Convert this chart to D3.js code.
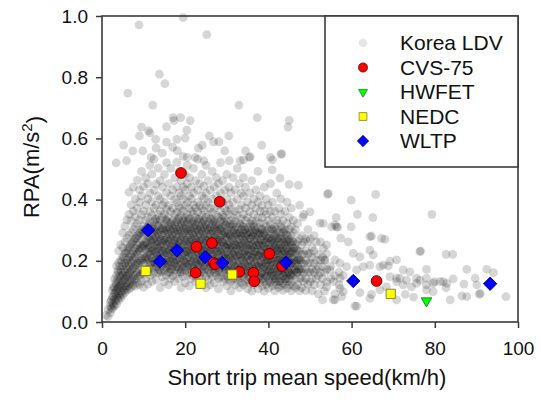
<!DOCTYPE html>
<html>
<head>
<meta charset="utf-8">
<script src="https://cdn.jsdelivr.net/npm/d3@7"></script>
<style>
  html, body { margin: 0; padding: 0; background: #fff; }
  svg { display: block; font-family: "Liberation Sans", Arial, sans-serif; }
</style>
</head>
<body>
<svg id="chart" width="541" height="404"></svg>
<script>
// Korea LDV short trips: main body as columns of [mean speed, RPA values]
const ldvColumns = [
  [1.0,[.022]],
  [1.5,[.018,.041]],
  [2.0,[.031,.052,.066]],
  [2.5,[.043,.061,.082,.104]],
  [3.0,[.052,.073,.094,.113,.141]],
  [3.5,[.058,.084,.103,.124,.152,.183]],
  [4.0,[.071,.092,.114,.133,.162,.194,.232]],
  [4.5,[.079,.101,.121,.146,.171,.203,.252]],
  [5.0,[.088,.112,.134,.153,.184,.213,.243,.291]],
  [5.5,[.097,.118,.142,.163,.192,.224,.262,.313]],
  [6.0,[.104,.128,.151,.174,.203,.232,.273,.334]],
  [6.5,[.108,.134,.158,.183,.212,.243,.284,.352,.424]],
  [7.0,[.113,.141,.167,.194,.221,.254,.292,.331,.383]],
  [7.5,[.121,.149,.176,.203,.232,.262,.303,.362,.441]],
  [8.0,[.117,.153,.187,.212,.241,.273,.312,.344,.402]],
  [8.5,[.128,.161,.193,.223,.252,.282,.321,.372,.463]],
  [9.0,[.122,.168,.201,.232,.258,.291,.334,.391,.432]],
  [9.5,[.133,.172,.208,.241,.268,.302,.351,.412,.492]],
  [10.0,[.113,.158,.192,.224,.249,.283,.313,.362,.442]],
  [10.5,[.141,.183,.213,.238,.262,.293,.332,.383,.471]],
  [11.0,[.124,.171,.203,.228,.253,.281,.308,.342,.402,.452]],
  [11.5,[.152,.188,.219,.243,.271,.298,.323,.361,.421,.512]],
  [12.0,[.132,.177,.208,.233,.258,.284,.312,.348,.393,.483]],
  [12.5,[.158,.193,.221,.247,.272,.293,.328,.372,.431,.532]],
  [13.0,[.138,.182,.203,.229,.252,.278,.303,.338,.382,.451]],
  [13.5,[.161,.191,.214,.241,.263,.289,.314,.352,.412,.503]],
  [14.0,[.112,.168,.198,.223,.248,.271,.298,.332,.363,.402,.462]],
  [14.5,[.148,.183,.208,.232,.257,.283,.307,.343,.382,.441,.552]],
  [15.0,[.131,.169,.193,.218,.243,.268,.292,.318,.353,.392,.482]],
  [15.5,[.153,.178,.203,.227,.253,.276,.302,.331,.368,.423,.521]],
  [16.0,[.121,.162,.188,.212,.238,.262,.287,.312,.342,.381,.452]],
  [16.5,[.142,.172,.198,.223,.247,.273,.298,.323,.361,.412,.502]],
  [17.0,[.151,.183,.207,.232,.256,.282,.306,.333,.372,.432,.571]],
  [17.5,[.132,.168,.192,.217,.242,.267,.293,.318,.352,.401,.471]],
  [18.0,[.158,.181,.204,.228,.251,.277,.302,.328,.358,.391,.442,.522]],
  [18.5,[.141,.172,.208,.236,.262,.287,.312,.341,.378,.421,.491]],
  [19.0,[.112,.163,.191,.217,.243,.268,.296,.322,.348,.372,.413,.462]],
  [19.5,[.149,.178,.201,.227,.254,.281,.307,.332,.362,.402,.441,.541]],
  [20.0,[.128,.168,.192,.218,.241,.266,.291,.317,.342,.381,.432,.482]],
  [20.5,[.153,.182,.208,.231,.253,.278,.303,.328,.352,.392,.452,.512]],
  [21.0,[.118,.161,.188,.213,.238,.262,.286,.311,.338,.371,.412,.472]],
  [21.5,[.142,.172,.198,.224,.248,.272,.297,.322,.361,.402,.441]],
  [22.0,[.151,.178,.206,.236,.258,.283,.308,.331,.353,.382,.422,.502]],
  [22.5,[.131,.167,.193,.219,.246,.271,.293,.318,.343,.373,.462]],
  [23.0,[.158,.183,.203,.228,.252,.278,.302,.327,.361,.392,.432,.532]],
  [23.5,[.122,.152,.187,.212,.237,.262,.288,.312,.338,.381,.452]],
  [24.0,[.141,.171,.198,.223,.247,.272,.297,.321,.348,.372,.412,.482]],
  [24.5,[.162,.183,.208,.232,.258,.283,.308,.332,.362,.403,.443]],
  [25.0,[.112,.148,.188,.216,.241,.266,.291,.318,.342,.381,.421,.512]],
  [25.5,[.138,.171,.197,.226,.251,.277,.301,.327,.352,.392,.462]],
  [26.0,[.121,.158,.182,.208,.236,.261,.286,.311,.338,.371,.432]],
  [26.5,[.148,.172,.197,.222,.248,.272,.298,.322,.358,.402,.492]],
  [27.0,[.128,.162,.188,.212,.238,.263,.283,.308,.333,.372,.442]],
  [27.5,[.152,.178,.202,.228,.253,.274,.298,.321,.348,.412,.472]],
  [28.0,[.108,.142,.168,.192,.218,.242,.262,.287,.312,.342,.382,.452]],
  [28.5,[.148,.176,.201,.227,.252,.278,.302,.328,.362,.421,.521]],
  [29.0,[.131,.162,.188,.212,.238,.261,.283,.308,.348,.392,.462]],
  [29.5,[.142,.171,.196,.221,.247,.268,.292,.318,.342,.372,.431]],
  [30.0,[.118,.151,.178,.206,.231,.253,.276,.301,.328,.362,.402,.482]],
  [30.5,[.139,.168,.192,.218,.241,.263,.288,.312,.352,.383,.441]],
  [31.0,[.102,.131,.158,.183,.208,.232,.253,.278,.302,.331,.368,.422]],
  [31.5,[.141,.168,.197,.221,.243,.268,.291,.318,.342,.392,.472]],
  [32.0,[.121,.152,.179,.206,.231,.252,.277,.302,.328,.362,.432]],
  [32.5,[.138,.163,.188,.216,.238,.262,.287,.312,.348,.402,.502]],
  [33.0,[.112,.142,.171,.198,.223,.248,.271,.293,.322,.368,.452]],
  [33.5,[.128,.158,.182,.208,.232,.256,.281,.303,.338,.382,.421]],
  [34.0,[.121,.148,.173,.198,.221,.243,.268,.291,.312,.352,.412,.472]],
  [34.5,[.132,.161,.187,.211,.233,.258,.281,.302,.332,.372,.441]],
  [35.0,[.108,.138,.166,.191,.216,.238,.262,.284,.308,.342,.392]],
  [35.5,[.127,.152,.178,.202,.227,.251,.273,.293,.322,.361,.422]],
  [36.0,[.101,.136,.162,.187,.211,.233,.252,.278,.301,.331,.382,.462]],
  [36.5,[.122,.148,.171,.197,.221,.242,.268,.291,.312,.352,.402]],
  [37.0,[.131,.158,.182,.207,.229,.251,.273,.298,.328,.372,.432]],
  [37.5,[.108,.141,.168,.192,.217,.238,.261,.283,.308,.342,.392,.492]],
  [38.0,[.128,.152,.178,.202,.227,.248,.271,.292,.322,.362,.412]],
  [38.5,[.118,.143,.163,.188,.212,.236,.258,.281,.302,.341,.381]],
  [39.0,[.101,.131,.158,.181,.203,.223,.247,.268,.292,.322,.362,.441]],
  [39.5,[.122,.148,.172,.193,.214,.238,.262,.283,.312,.352,.402]],
  [40.0,[.111,.138,.162,.183,.204,.228,.252,.273,.302,.332,.382]],
  [40.5,[.128,.151,.173,.192,.218,.241,.262,.288,.318,.362,.452]],
  [41.0,[.118,.142,.163,.184,.208,.231,.252,.273,.302,.342,.392]],
  [41.5,[.102,.131,.152,.173,.198,.221,.243,.262,.283,.312,.362]],
  [42.0,[.121,.141,.162,.188,.211,.232,.253,.272,.302,.332,.421]],
  [42.5,[.112,.133,.152,.178,.202,.223,.242,.263,.292,.322,.372]],
  [43.0,[.119,.142,.168,.191,.212,.232,.252,.281,.312,.352,.402]],
  [43.5,[.103,.128,.151,.172,.198,.221,.241,.262,.292,.331]],
  [44.0,[.122,.141,.162,.182,.208,.231,.252,.272,.302,.362]],
  [44.5,[.111,.132,.151,.172,.193,.218,.241,.261,.283,.322,.392]],
  [45.0,[.121,.141,.161,.182,.203,.222,.242,.272,.302,.342]],
  [45.5,[.102,.131,.152,.171,.192,.212,.231,.252,.283,.312,.372]],
  [46.0,[.118,.152,.181,.211,.241,.262,.292,.332]],
  [46.5,[.112,.141,.172,.192,.223,.253,.302]],
  [47.0,[.121,.163,.183,.203,.233,.263,.322]],
  [47.5,[.102,.142,.172,.202,.231,.272,.382]],
  [48.0,[.112,.143,.173,.193,.221,.252,.282]],
  [48.5,[.132,.161,.192,.222,.261,.352]],
  [49.0,[.103,.142,.171,.201,.233,.272]],
  [49.5,[.123,.162,.191,.222,.263,.302]],
  [50.0,[.131,.163,.194,.224,.272]],
  [50.5,[.102,.142,.172,.212,.243]],
  [51.0,[.121,.162,.191,.232,.282]],
  [51.5,[.142,.171,.202,.262]],
  [52.0,[.092,.152,.182,.222]],
  [52.5,[.122,.161,.203,.262]],
  [53.0,[.142,.181,.212]],
  [53.5,[.101,.162,.201]],
  [54.0,[.131,.172,.223]],
  [55.0,[.142,.182]],
  [56.0,[.092,.151,.203]],
  [57.0,[.122,.163]],
  [58.0,[.152]]
];

// Korea LDV short trips: the densely packed core, [mean speed, RPA values]
const ldvCore = [
  [2.25,[.045,.072]],
  [2.75,[.056,.083,.112]],
  [3.25,[.068,.097,.128]],
  [3.75,[.077,.108,.139,.168]],
  [4.25,[.086,.118,.151,.182]],
  [4.75,[.094,.127,.162,.197]],
  [5.25,[.103,.138,.172,.211]],
  [5.75,[.112,.147,.183,.226]],
  [6.25,[.118,.154,.192,.238]],
  [6.75,[.126,.163,.201,.247]],
  [7.25,[.133,.171,.212,.258]],
  [7.75,[.139,.178,.221,.268]],
  [8.25,[.143,.186,.229,.274]],
  [8.75,[.151,.193,.238,.283]],
  [9.25,[.156,.198,.243,.291]],
  [9.75,[.161,.204,.251,.297]],
  [10.25,[.166,.209,.254,.302]],
  [10.75,[.171,.214,.258,.306]],
  [11.25,[.172,.207,.243,.279,.316]],
  [11.75,[.196,.231,.267,.305]],
  [12.25,[.163,.198,.234,.268,.304]],
  [12.75,[.189,.226,.262,.298,.335]],
  [13.25,[.181,.217,.252,.289,.327]],
  [13.75,[.172,.207,.243,.279,.316]],
  [14.25,[.163,.198,.234,.268,.304]],
  [14.75,[.196,.231,.267,.305]],
  [15.25,[.189,.226,.262,.298,.335]],
  [15.75,[.181,.217,.252,.289,.327]],
  [16.25,[.163,.198,.234,.268,.304]],
  [16.75,[.172,.207,.243,.279,.316]],
  [17.25,[.196,.231,.267,.305]],
  [17.75,[.181,.217,.252,.289,.327]],
  [18.25,[.189,.226,.262,.298,.335]],
  [18.75,[.163,.198,.234,.268,.304]],
  [19.25,[.172,.207,.243,.279,.316]],
  [19.75,[.181,.217,.252,.289,.327]],
  [20.25,[.196,.231,.267,.305]],
  [20.75,[.189,.226,.262,.298,.335]],
  [21.25,[.163,.198,.234,.268,.304]],
  [21.75,[.181,.217,.252,.289,.327]],
  [22.25,[.172,.207,.243,.279,.316]],
  [22.75,[.196,.231,.267,.305]],
  [23.25,[.189,.226,.262,.298,.335]],
  [23.75,[.163,.198,.234,.268,.304]],
  [24.25,[.181,.217,.252,.289,.327]],
  [24.75,[.172,.207,.243,.279,.316]],
  [25.25,[.196,.231,.267,.305]],
  [25.75,[.163,.198,.234,.268,.304]],
  [26.25,[.189,.226,.262,.298,.335]],
  [26.75,[.181,.217,.252,.289,.327]],
  [27.25,[.172,.207,.243,.279,.316]],
  [27.75,[.196,.231,.267,.305]],
  [28.25,[.163,.198,.234,.268,.304]],
  [28.75,[.189,.226,.262,.298,.335]],
  [29.25,[.181,.217,.252,.289,.327]],
  [29.75,[.172,.207,.243,.279,.316]],
  [30.25,[.148,.183,.219,.253,.289]],
  [30.75,[.174,.211,.247,.283,.32]],
  [31.25,[.166,.202,.237,.274,.312]],
  [31.75,[.157,.192,.228,.264,.301]],
  [32.25,[.181,.216,.252,.29]],
  [32.75,[.148,.183,.219,.253,.289]],
  [33.25,[.174,.211,.247,.283,.32]],
  [33.75,[.166,.202,.237,.274,.312]],
  [34.25,[.157,.192,.228,.264,.301]],
  [34.75,[.181,.216,.252,.29]],
  [35.25,[.148,.183,.219,.253,.289]],
  [35.75,[.166,.202,.237,.274,.312]],
  [36.25,[.174,.211,.247,.283,.32]],
  [36.75,[.157,.192,.228,.264,.301]],
  [37.25,[.181,.216,.252,.29]],
  [37.75,[.148,.183,.219,.253,.289]],
  [38.25,[.159,.196,.232,.268,.305]],
  [38.75,[.142,.177,.213,.249,.286]],
  [39.25,[.151,.187,.222,.259,.297]],
  [39.75,[.166,.201,.237,.275]],
  [40.25,[.133,.168,.204,.238,.274]],
  [40.75,[.159,.196,.232,.268,.305]],
  [41.25,[.151,.187,.222,.259,.297]],
  [41.75,[.142,.177,.213,.249,.286]],
  [42.25,[.166,.201,.237,.275]],
  [42.75,[.133,.168,.204,.238,.274]],
  [43.25,[.159,.196,.232,.268,.305]],
  [43.75,[.151,.187,.222,.259,.297]],
  [44.25,[.142,.177,.213,.249,.286]],
  [44.75,[.162,.198,.233,.268]],
  [45.25,[.155,.191,.226,.261]],
  [45.75,[.158,.194,.229,.264]],
  [46.25,[.168,.205,.241]],
  [46.75,[.162,.198,.236]],
  [47.25,[.171,.208]],
  [47.75,[.165,.202]]
];

// Korea LDV short trips: sparse outliers and the high-speed tail, [mean speed, RPA]
const ldvSparse = [
  [8.9,.971],[19.5,.995],[25.2,.939],[13.8,.81],[15.1,.779],[6.2,.748],[12.2,.709],[32.9,.709],
  [37.3,.668],[45.0,.659],[44.7,.637],[17.1,.668],[18.9,.668],[21.2,.658],[17.3,.658],[9.5,.637],
  [15.5,.638],[11.2,.625],[11.5,.618],[9.0,.608],[20.4,.627],[12.9,.597],[18.0,.597],[25.8,.608],
  [30.5,.608],[26.8,.589],[28.1,.589],[15.5,.588],[5.2,.578],[7.4,.559],[9.8,.559],[13.0,.568],
  [18.1,.56],[20.0,.601],[23.2,.568],[24.1,.578],[29.5,.559],[34.5,.559],[38.4,.578],[43.0,.548],
  [40.5,.538],[41.0,.53],[35.4,.538],[33.2,.527],[30.6,.527],[22.4,.538],[20.5,.538],[11.8,.538],
  [5.9,.527],[3.4,.52],[24.5,.527],
  [45.0,.45],[47.2,.447],[54.4,.42],[42.8,.47],[40.9,.497],[35.6,.54],[34.0,.53],[43.2,.55],
  [56.0,.317],[56.6,.31],[50.0,.36],[48.3,.343],[52.4,.323],
  [54.2,.417],[65.8,.417],[59.9,.398],[79.3,.352],[61.4,.352],[65.1,.341],[56.3,.341],[53.2,.322],
  [55.2,.311],[56.4,.311],[59.9,.311],[64.8,.281],[68.0,.270],[57.4,.274],[59.2,.262],[76.6,.232],
  [82.7,.221],[84.3,.221],[70.8,.203],[69.2,.199],[67.6,.186],[74.0,.164],[72.4,.170],[78.0,.172],
  [87.7,.172],[92.5,.172],[94.1,.161],[89.7,.143],[84.4,.141],[82.0,.132],[79.6,.126],[76.4,.137],
  [75.6,.143],[73.2,.137],[71.6,.143],[87.0,.124],[90.1,.121],[82.7,.112],[78.0,.121],[86.5,.085],
  [87.7,.083],[90.7,.090],[97.1,.083],[83.7,.072],[72.9,.090],[74.9,.081],[70.8,.072],[64.8,.090],
  [62.0,.096],[60.8,.053],[56.0,.072],[58.0,.099],[55.6,.132],[57.2,.143],[61.2,.170],[62.8,.181],
  [64.4,.186],[66.8,.181],[68.8,.183],[70.8,.143],[69.2,.148],[78.0,.143],[79.9,.132],[60.4,.224],
  [62.0,.213],[64.4,.235],[65.2,.219],[54.0,.252],[53.2,.241],[57.2,.192],[58.8,.181],[53.6,.203],
  [54.8,.170],[54.0,.115],[57.2,.110],[53.0,.072],[64.4,.279],[67.2,.273],[76.4,.230],[78.0,.105],
  [79.6,.099],[74.4,.115],[75.6,.126],[81.3,.132],[82.9,.126],[70.8,.132],[72.4,.121],[61.2,.052],
  [55.6,.072],[57.6,.083],[64.4,.077],[66.8,.105],[68.4,.115],[90.9,.094]
];

// Standard driving cycles
const cvsSpeed   = [19.0, 28.3, 22.7, 26.4, 26.8, 27.2, 22.5, 33.0, 36.4, 36.6, 40.2, 43.3, 66.0];
const cvsRpa     = [.487, .393, .246, .258, .194, .189, .161, .164, .161, .133, .223, .183, .134];
const hwfetSpeed = [78.0];
const hwfetRpa   = [.069];
const nedcSpeed  = [10.5, 23.7, 31.3, 69.4];
const nedcRpa    = [.167, .125, .155, .092];
const wltpSpeed  = [11.1, 13.9, 18.0, 24.8, 28.9, 44.2, 60.4, 93.3];
const wltpRpa    = [.300, .198, .234, .212, .193, .194, .134, .125];

const xTicks = [0, 20, 40, 60, 80, 100];
const yTicks = [0, 0.2, 0.4, 0.6, 0.8, 1.0];
const legendLabels = ["Korea LDV", "CVS-75", "HWFET", "NEDC", "WLTP"];

const svg = d3.select("#chart");
const frame = { left: 102, right: 518, top: 16, bottom: 322 };
const axisColor = "#3a3a3a";

const x = d3.scaleLinear().domain([0, 100]).range([frame.left, frame.right]);
const y = d3.scaleLinear().domain([0, 1]).range([frame.bottom, frame.top]);

const zip = (a, b) => a.map((v, i) => [v, b[i]]);
const fromColumns = cols => cols.flatMap(([s, list]) => list.map(r => [s, r]));
const ldvPoints = fromColumns(ldvColumns).concat(fromColumns(ldvCore), ldvSparse);

// Cloud of trips
svg.append("g")
  .selectAll("circle")
  .data(ldvPoints)
  .join("circle")
  .attr("cx", d => x(d[0]))
  .attr("cy", d => y(d[1]))
  .attr("r", 4.4)
  .attr("fill", "#000")
  .attr("fill-opacity", 0.16);

// Marker shapes
const circlePath = d3.symbol(d3.symbolCircle, 90)();
const squarePath = d3.symbol(d3.symbolSquare, 85)();
const diamondPath = d3.symbol(d3.symbolSquare, 88)();
const trianglePath = d3.symbol(d3.symbolTriangle, 48)();

const styles = {
  cvs:   { path: circlePath,   rot: 0,   fill: "#ff0000", stroke: "#5a0000" },
  hwfet: { path: trianglePath, rot: 180, fill: "#00ff00", stroke: "#1f7a1f" },
  nedc:  { path: squarePath,   rot: 0,   fill: "#ffff00", stroke: "#7a7a30" },
  wltp:  { path: diamondPath,  rot: 45,  fill: "#0000ff", stroke: "#00007a" }
};

function drawSeries(points, st) {
  svg.append("g")
    .selectAll("path")
    .data(points)
    .join("path")
    .attr("d", st.path)
    .attr("transform", d => `translate(${x(d[0])},${y(d[1])}) rotate(${st.rot})`)
    .attr("fill", st.fill)
    .attr("stroke", st.stroke)
    .attr("stroke-width", 0.9);
}

drawSeries(zip(cvsSpeed, cvsRpa), styles.cvs);
drawSeries(zip(hwfetSpeed, hwfetRpa), styles.hwfet);
drawSeries(zip(nedcSpeed, nedcRpa), styles.nedc);
drawSeries(zip(wltpSpeed, wltpRpa), styles.wltp);

// Axes
const xAxis = svg.append("g")
  .attr("transform", `translate(0,${frame.bottom})`)
  .call(d3.axisBottom(x).tickValues(xTicks).tickFormat(d3.format("d"))
    .tickSize(6).tickSizeOuter(0).tickPadding(14));
const yAxis = svg.append("g")
  .attr("transform", `translate(${frame.left},0)`)
  .call(d3.axisLeft(y).tickValues(yTicks).tickFormat(d3.format(".1f"))
    .tickSize(6).tickSizeOuter(0).tickPadding(8));

[xAxis, yAxis].forEach(g => {
  g.select(".domain").remove();
  g.selectAll(".tick line").attr("stroke", axisColor).attr("stroke-width", 1.5);
  g.selectAll(".tick text").attr("fill", "#111").style("font-size", "19px")
    .style("font-family", "'Liberation Sans', Arial, sans-serif");
});

// Plot frame
svg.append("rect")
  .attr("x", frame.left).attr("y", frame.top)
  .attr("width", frame.right - frame.left).attr("height", frame.bottom - frame.top)
  .attr("fill", "none").attr("stroke", axisColor).attr("stroke-width", 1.6);

// Axis titles
svg.append("text")
  .attr("x", (frame.left + frame.right) / 2 - 3)
  .attr("y", 385)
  .attr("text-anchor", "middle")
  .attr("fill", "#111")
  .style("font-size", "22px")
  .text("Short trip mean speed(km/h)");

const yTitle = svg.append("text")
  .attr("transform", `translate(39,${(frame.top + frame.bottom) / 2 - 2}) rotate(-90)`)
  .attr("text-anchor", "middle")
  .attr("fill", "#111")
  .style("font-size", "22px");
yTitle.append("tspan").text("RPA(m/s");
yTitle.append("tspan").attr("dy", "-0.45em").style("font-size", "15px").text("2");
yTitle.append("tspan").attr("dy", "0.45em").text(")");

// Legend
const legend = svg.append("g");
legend.append("rect")
  .attr("x", 325).attr("y", frame.top)
  .attr("width", frame.right - 325).attr("height", 151)
  .attr("fill", "#fff").attr("stroke", axisColor).attr("stroke-width", 1.6);

const legendStyles = [null, styles.cvs, styles.hwfet, styles.nedc, styles.wltp];
const rowY = d3.scalePoint().domain(legendLabels).range([43, 141]);

legendLabels.forEach((label, i) => {
  const cy = rowY(label);
  const st = legendStyles[i];
  if (st) {
    legend.append("path")
      .attr("d", st.path)
      .attr("transform", `translate(363,${cy}) rotate(${st.rot}) scale(0.85)`)
      .attr("fill", st.fill).attr("stroke", st.stroke).attr("stroke-width", 0.9);
  } else {
    legend.append("circle").attr("cx", 363).attr("cy", cy).attr("r", 4.2)
      .attr("fill", "#000").attr("fill-opacity", 0.1);
  }
  legend.append("text")
    .attr("x", 400).attr("y", cy)
    .attr("dy", "0.35em")
    .attr("fill", "#111")
    .style("font-size", "21px")
    .text(label);
});
</script>
</body>
</html>
